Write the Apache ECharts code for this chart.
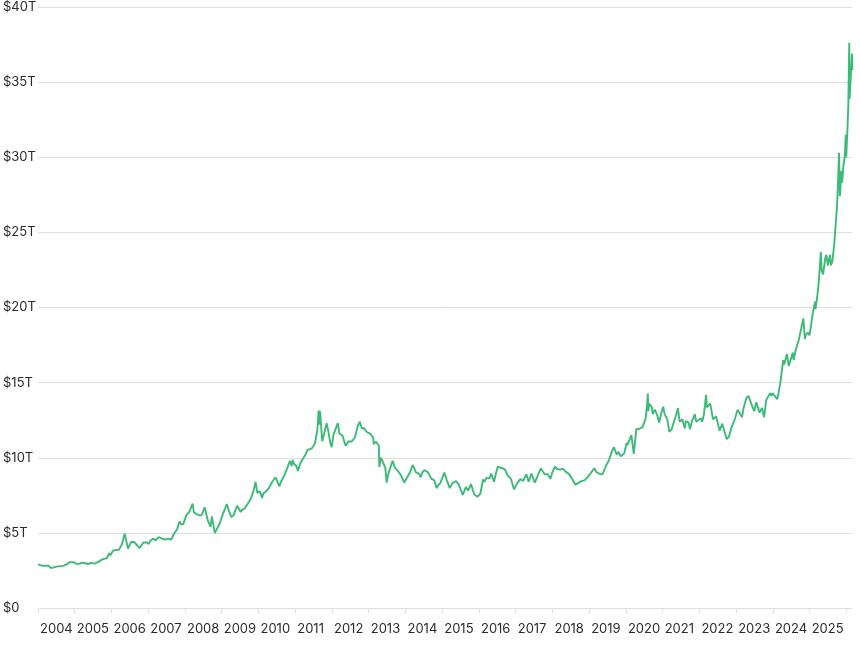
<!DOCTYPE html>
<html>
<head>
<meta charset="utf-8">
<script src="https://cdn.jsdelivr.net/npm/echarts@6/dist/echarts.min.js"></script>
<style>
  html, body { margin: 0; padding: 0; background: #fff; }
  #chart { width: 860px; height: 645px; }
</style>
</head>
<body>
<div id="chart"></div>
<script>
// market value in trillions of US dollars
var dates = [
  '2004-01-02','2004-01-15','2004-02-15','2004-03-15','2004-04-15','2004-05-10','2004-06-15','2004-07-15','2004-08-15','2004-09-15','2004-10-15','2004-11-15','2004-12-02','2004-12-20',
  '2005-01-15','2005-02-15','2005-03-15','2005-04-15','2005-05-15','2005-06-15','2005-07-15','2005-08-15','2005-09-15','2005-10-15','2005-11-15','2005-12-12','2005-12-22',
  '2006-01-15','2006-02-15','2006-03-15','2006-04-15','2006-05-12','2006-05-25','2006-06-14','2006-06-28','2006-07-15','2006-08-15','2006-09-15','2006-10-05','2006-10-20','2006-11-15','2006-12-15',
  '2007-01-05','2007-01-20','2007-02-15','2007-02-27','2007-03-15','2007-04-15','2007-05-15','2007-06-15','2007-07-15','2007-08-16','2007-09-15','2007-10-15','2007-11-08','2007-11-25','2007-12-15',
  '2008-01-15','2008-02-15','2008-03-17','2008-03-31','2008-04-15','2008-05-15','2008-06-15','2008-07-15','2008-08-15','2008-09-11','2008-09-25','2008-10-24','2008-11-15','2008-12-15','2008-12-31',
  '2009-01-15','2009-02-20','2009-03-15','2009-04-07','2009-04-30','2009-05-15','2009-06-03','2009-06-20','2009-07-08','2009-07-20','2009-08-15','2009-09-15','2009-10-15','2009-11-15','2009-12-03','2009-12-21','2009-12-31',
  '2010-01-15','2010-02-05','2010-02-20','2010-03-15','2010-04-15','2010-05-15','2010-06-20','2010-07-28','2010-08-15','2010-09-15','2010-10-15','2010-11-09','2010-11-25','2010-12-07','2010-12-20',
  '2011-01-15','2011-01-28','2011-02-15','2011-03-15','2011-04-15','2011-05-02','2011-05-15','2011-06-15','2011-07-15','2011-08-08','2011-08-22','2011-08-26','2011-09-05','2011-09-26','2011-10-15','2011-11-08','2011-11-25','2011-12-15','2011-12-29',
  '2012-01-15','2012-02-28','2012-03-15','2012-04-15','2012-05-16','2012-06-15','2012-07-15','2012-08-15','2012-09-15','2012-10-04','2012-10-25','2012-11-15','2012-12-15',
  '2013-01-15','2013-02-15','2013-02-20','2013-03-15','2013-04-12','2013-04-16','2013-05-01','2013-05-15','2013-06-15','2013-06-28','2013-07-15','2013-08-27','2013-09-15','2013-10-15','2013-11-15','2013-12-20',
  '2014-01-15','2014-02-15','2014-03-14','2014-04-15','2014-05-15','2014-06-02','2014-06-20','2014-07-10','2014-08-15','2014-09-15','2014-10-15','2014-11-07','2014-11-25','2014-12-15',
  '2015-01-22','2015-02-15','2015-03-17','2015-04-15','2015-05-18','2015-06-15','2015-07-24','2015-08-24','2015-09-15','2015-10-14','2015-11-15','2015-12-17',
  '2016-01-15','2016-02-11','2016-02-25','2016-03-15','2016-04-15','2016-05-02','2016-05-30','2016-06-15','2016-07-06','2016-08-15','2016-09-15','2016-10-15','2016-11-15','2016-12-15',
  '2017-01-15','2017-02-15','2017-03-15','2017-04-17','2017-05-09','2017-06-06','2017-07-10','2017-08-15','2017-09-08','2017-10-15','2017-11-15','2017-12-12','2017-12-29',
  '2018-01-25','2018-02-15','2018-03-15','2018-04-15','2018-05-15','2018-06-15','2018-07-15','2018-08-16','2018-09-15','2018-10-15','2018-11-15','2018-12-15',
  '2019-01-15','2019-02-20','2019-03-15','2019-04-23','2019-05-15','2019-06-15','2019-07-15','2019-08-15','2019-09-04','2019-10-01','2019-10-15','2019-11-12','2019-12-15',
  '2020-01-08','2020-01-15','2020-02-24','2020-03-09','2020-03-19','2020-03-31','2020-04-14','2020-05-15','2020-06-15','2020-07-15','2020-07-28','2020-08-06','2020-08-11','2020-08-20','2020-09-15','2020-09-24','2020-10-15','2020-11-09','2020-11-27','2020-12-15',
  '2021-01-06','2021-01-20','2021-02-15','2021-03-08','2021-03-31','2021-04-15','2021-05-15','2021-06-01','2021-06-18','2021-07-15','2021-08-09','2021-08-20','2021-09-15','2021-09-29','2021-10-15','2021-11-16','2021-11-30','2021-12-15',
  '2022-01-15','2022-01-28','2022-02-15','2022-03-08','2022-03-16','2022-04-18','2022-05-16','2022-06-15','2022-07-21','2022-08-15','2022-09-28','2022-10-20','2022-11-15','2022-12-15',
  '2023-01-15','2023-02-28','2023-03-15','2023-04-13','2023-05-04','2023-05-30','2023-06-29','2023-07-20','2023-08-21','2023-09-15','2023-10-05','2023-10-27','2023-11-15','2023-12-04','2023-12-15','2023-12-28',
  '2024-01-15','2024-02-14','2024-03-15','2024-04-12','2024-04-22','2024-05-20','2024-06-07','2024-06-25','2024-07-17','2024-07-25','2024-08-15','2024-09-15','2024-10-30','2024-11-14','2024-11-25','2024-12-15','2024-12-30',
  '2025-01-15','2025-01-31','2025-02-24','2025-02-28','2025-03-17','2025-03-31','2025-04-11','2025-04-22','2025-05-01','2025-05-15','2025-06-05','2025-06-16','2025-06-30','2025-07-22','2025-07-30','2025-08-15','2025-09-02','2025-09-15','2025-09-30','2025-10-08','2025-10-20','2025-10-28','2025-11-13','2025-11-20','2025-12-01','2025-12-15','2025-12-26','2025-12-30',
  '2026-01-12','2026-01-20','2026-01-29','2026-02-02','2026-02-10','2026-02-20','2026-02-25','2026-03-01'
];

var valuesT = [
  2.91,2.88,2.81,2.82,2.81,2.65,2.72,2.77,2.79,2.82,2.92,3.05,3.16,3.05,
  2.95,2.94,3.02,2.98,2.93,3.00,2.95,3.04,3.17,3.27,3.31,3.66,3.50,
  3.82,3.86,3.87,4.24,4.95,4.55,3.95,4.05,4.40,4.39,4.16,3.98,4.12,4.36,4.37,
  4.25,4.45,4.62,4.75,4.50,4.72,4.64,4.55,4.62,4.55,4.96,5.24,5.76,5.55,5.58,
  6.18,6.41,6.95,6.35,6.32,6.17,6.19,6.70,5.83,5.40,6.10,4.98,5.28,5.67,6.03,
  5.96,6.92,6.43,6.05,6.18,6.46,6.80,6.60,6.39,6.54,6.60,6.92,7.25,7.83,8.40,7.66,7.70,
  7.77,7.33,7.65,7.74,7.98,8.37,8.70,8.10,8.44,8.83,9.33,9.80,9.45,9.85,9.60,
  9.42,9.12,9.54,9.90,10.24,10.50,10.40,10.63,10.93,11.80,13.15,12.20,13.10,11.10,11.58,12.30,11.80,11.00,10.70,
  11.51,12.30,11.63,11.47,10.80,11.09,11.08,11.33,12.13,12.40,11.95,11.97,11.70,
  11.61,11.31,10.90,11.07,10.80,9.38,10.00,9.83,9.33,8.35,8.94,9.80,9.38,9.15,8.86,8.35,
  8.65,9.04,9.52,9.03,8.94,8.70,9.05,9.18,9.01,8.61,8.49,7.98,8.20,8.35,
  9.02,8.53,7.98,8.33,8.45,8.21,7.52,8.05,7.82,8.25,7.55,7.40,
  7.62,8.55,8.40,8.66,8.63,8.95,8.40,8.87,9.40,9.32,9.22,8.81,8.59,7.90,
  8.28,8.58,8.45,8.90,8.40,8.95,8.35,8.92,9.30,8.90,8.91,8.60,9.00,
  9.40,9.25,9.21,9.28,9.06,8.91,8.60,8.20,8.33,8.44,8.49,8.69,
  8.97,9.30,9.04,8.90,8.92,9.45,9.82,10.43,10.70,10.20,10.39,10.10,10.29,
  11.00,10.84,11.50,11.60,10.25,11.05,11.90,11.93,12.04,12.60,13.40,14.28,13.10,13.60,13.36,12.90,13.21,12.80,12.35,12.91,
  13.40,12.90,12.57,11.72,11.90,12.23,12.86,13.30,12.40,12.56,11.95,12.45,12.34,11.90,12.35,12.90,12.40,12.44,
  12.63,12.40,12.90,14.18,13.35,13.60,12.55,12.76,11.80,12.27,11.25,11.40,12.00,12.50,
  13.19,12.70,13.29,14.00,14.10,13.60,13.10,13.70,13.00,13.32,12.70,13.85,13.79,14.30,14.12,14.30,
  14.14,13.90,15.00,16.50,16.20,16.90,16.10,16.20,17.00,16.50,17.17,17.86,19.27,17.90,18.20,18.35,18.14,
  18.83,19.60,20.40,19.90,20.70,21.60,22.60,23.70,22.40,22.20,23.30,23.50,22.80,23.50,22.80,23.10,24.20,25.40,26.80,28.00,30.30,27.40,29.10,28.30,29.40,30.00,31.50,30.00,
  32.00,33.50,37.60,33.90,35.00,36.20,36.90,35.80
];

var yearTicks = [2004, 2026.16];
var lineColor = '#3cba77';
var textColor = '#2b2b2b';
var gridColor = '#dedede';

function toYear(s) {
  var p = s.split('-').map(Number);
  var t = Date.UTC(p[0], p[1] - 1, p[2]);
  var t0 = Date.UTC(p[0], 0, 1);
  var t1 = Date.UTC(p[0] + 1, 0, 1);
  return p[0] + (t - t0) / (t1 - t0);
}

var points = dates.map(function (d, i) { return [toYear(d), valuesT[i]]; });

var chart = echarts.init(document.getElementById('chart'));

var option = {
  animation: false,
  grid: { left: 36.7, right: 7.7, top: 7, bottom: 37, containLabel: false },
  xAxis: {
    type: 'value',
    min: yearTicks[0],
    max: yearTicks[1],
    interval: 1,
    axisLine: { show: false },
    axisTick: { show: true, length: 5, lineStyle: { color: gridColor, width: 1 } },
    splitLine: { show: false },
    axisLabel: {
      showMaxLabel: false,
      align: 'left',
      padding: [0, 0, 0, 2],
      margin: 15,
      color: textColor,
      fontSize: 13,
      fontFamily: 'Inter',
      formatter: function (v) {
        return (Math.round(v) === v && v < 2026) ? String(v) : '';
      }
    }
  },
  yAxis: {
    type: 'value',
    min: 0,
    max: 40,
    interval: 5,
    axisLine: { show: false },
    axisTick: { show: false },
    splitLine: { lineStyle: { color: gridColor, width: 1 } },
    axisLabel: {
      align: 'left',
      margin: 35,
      color: textColor,
      fontSize: 13,
      fontFamily: 'Inter',
      formatter: function (v) { return v === 0 ? '$0' : '$' + v + 'T'; }
    }
  },
  series: [{
    type: 'line',
    data: points,
    showSymbol: false,
    symbol: 'none',
    lineStyle: { color: lineColor, width: 1.9 },
    itemStyle: { color: lineColor }
  }]
};

chart.setOption(option);
window.onresize = function () { chart.resize(); };
</script>
</body>
</html>
